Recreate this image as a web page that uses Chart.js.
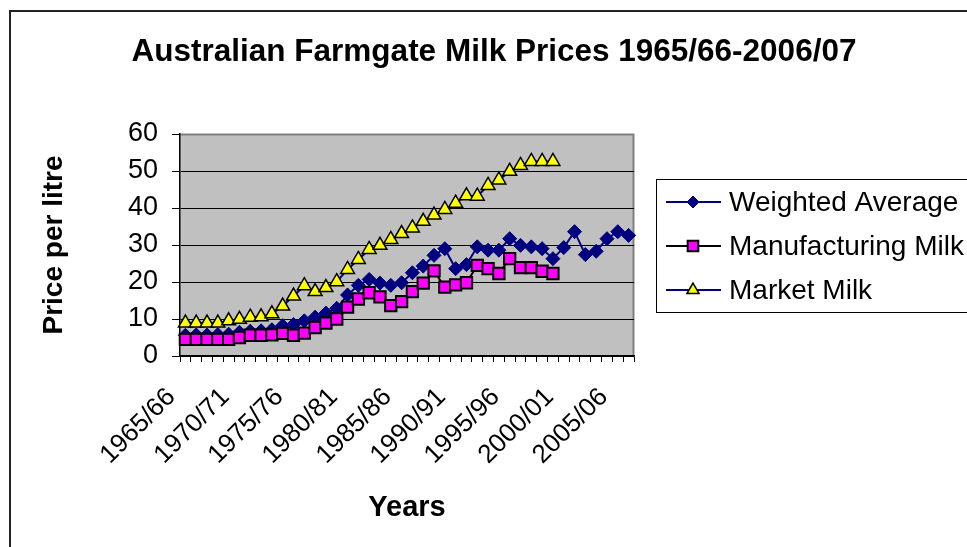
<!DOCTYPE html>
<html>
<head>
<meta charset="utf-8">
<script src="https://cdn.jsdelivr.net/npm/chart.js"></script>
<style>
html,body{margin:0;padding:0;background:#fff;}
#c{display:block;}
</style>
</head>
<body>
<canvas id="c" width="967" height="547"></canvas>
<script>
const chartTitle = 'Australian Farmgate Milk Prices 1965/66-2006/07';
const xTitle = 'Years';
const yTitle = 'Price per litre';

const categories = ['1965/66','1966/67','1967/68','1968/69','1969/70','1970/71','1971/72','1972/73','1973/74','1974/75',
  '1975/76','1976/77','1977/78','1978/79','1979/80','1980/81','1981/82','1982/83','1983/84','1984/85',
  '1985/86','1986/87','1987/88','1988/89','1989/90','1990/91','1991/92','1992/93','1993/94','1994/95',
  '1995/96','1996/97','1997/98','1998/99','1999/00','2000/01','2001/02','2002/03','2003/04','2004/05',
  '2005/06','2006/07'];

const seriesNames = ['Weighted Average', 'Manufacturing Milk', 'Market Milk'];

const weightedAverage = [5.6,5.7,5.7,5.8,5.9,6.4,6.7,6.8,7.1,8.2,
  8.5,9.5,10.5,11.6,12.9,16.5,19.1,20.7,19.7,19.1,
  19.8,22.5,24.3,27.2,29.0,23.6,24.7,29.5,28.6,28.6,
  31.7,29.9,29.5,29.0,26.3,29.3,33.6,27.4,28.3,31.7,
  33.6,32.6];

const manufacturingMilk = [4.5,4.5,4.5,4.5,4.5,5.0,5.6,5.6,5.7,6.1,
  5.6,6.2,7.7,8.9,10.0,13.2,15.4,17.1,16.0,13.6,
  14.7,17.4,19.7,23.0,18.6,19.2,19.8,24.5,23.6,22.3,
  26.3,23.9,23.9,22.9,22.3,null,null,null,null,null,
  null,null];

const marketMilk = [8.9,8.9,8.9,8.9,9.5,9.9,10.5,10.6,11.4,13.5,
  16.2,19.0,17.4,18.5,20.1,23.4,26.1,28.8,29.9,31.5,
  33.1,34.6,36.4,38.1,39.6,41.3,43.3,43.2,46.1,47.6,
  49.9,51.5,52.6,52.6,52.6,null,null,null,null,null,
  null,null];

const yTicks = {min: 0, max: 60, step: 10};
const labelEvery = 5;

const FONT = '"Liberation Sans", Arial, sans-serif';
Chart.defaults.font.family = FONT;
Chart.defaults.color = '#000';

const NAVY = '#000080';

function drawMarker(ctx, style, x, y, r, fill, stroke, lw) {
  ctx.save();
  ctx.fillStyle = fill; ctx.strokeStyle = stroke; ctx.lineWidth = lw;
  ctx.beginPath();
  if (style === 'rectRot') {
    ctx.moveTo(x, y - r); ctx.lineTo(x + r, y); ctx.lineTo(x, y + r); ctx.lineTo(x - r, y); ctx.closePath();
  } else if (style === 'rect') {
    const s = r * Math.SQRT1_2;
    ctx.rect(x - s, y - s, 2 * s, 2 * s);
  } else if (style === 'triangle') {
    ctx.moveTo(x, y - r);
    ctx.lineTo(x + r * Math.sin(2 * Math.PI / 3), y - r * Math.cos(2 * Math.PI / 3));
    ctx.lineTo(x + r * Math.sin(4 * Math.PI / 3), y - r * Math.cos(4 * Math.PI / 3));
    ctx.closePath();
  }
  ctx.fill(); ctx.stroke();
  ctx.restore();
}

const decorPlugin = {
  id: 'decor',
  beforeDraw(chart) {
    const {ctx, chartArea: a} = chart;
    ctx.save();
    ctx.fillStyle = '#fff';
    ctx.fillRect(0, 0, chart.width, chart.height);
    ctx.fillStyle = '#C0C0C0';
    ctx.fillRect(a.left, a.top, a.right - a.left, a.bottom - a.top);
    ctx.strokeStyle = '#808080';
    ctx.lineWidth = 2;
    ctx.beginPath();
    ctx.moveTo(a.left, a.top + 0.5);
    ctx.lineTo(a.right - 0.5, a.top + 0.5);
    ctx.lineTo(a.right - 0.5, a.bottom);
    ctx.stroke();
    ctx.strokeStyle = '#222';
    ctx.lineWidth = 2;
    ctx.strokeRect(10, 11, chart.width + 40, chart.height + 40);
    ctx.restore();
  },
  afterDraw(chart) {
    const {ctx} = chart;
    ctx.save();
    ctx.fillStyle = '#000';
    ctx.font = 'bold 31.5px ' + FONT;
    ctx.textAlign = 'center';
    ctx.textBaseline = 'alphabetic';
    ctx.fillText(chartTitle, 494, 61);
    ctx.strokeStyle = '#000';
    ctx.lineWidth = 1;
    ctx.strokeRect(656.5, 179.5, 400, 133);
    const rows = [202, 246, 290];
    ctx.font = '28px ' + FONT;
    ctx.textAlign = 'left';
    ctx.textBaseline = 'middle';
    chart.data.datasets.forEach((ds, i) => {
      const y = rows[i];
      ctx.strokeStyle = ds.borderColor;
      ctx.lineWidth = 2;
      ctx.beginPath();
      ctx.moveTo(666, y); ctx.lineTo(721, y);
      ctx.stroke();
      drawMarker(ctx, ds.pointStyle, 693, y, ds.legendRadius, ds.pointBackgroundColor, ds.pointBorderColor, ds.pointBorderWidth);
      ctx.fillStyle = '#000';
      ctx.fillText(ds.label, 729, y + 1);
    });
    ctx.restore();
  }
};

new Chart(document.getElementById('c'), {
  type: 'line',
  data: {
    labels: categories,
    datasets: [
      {
        label: seriesNames[0], data: weightedAverage,
        borderColor: NAVY, borderWidth: 2,
        pointStyle: 'rectRot', pointRadius: 7, pointHoverRadius: 7,
        pointBackgroundColor: NAVY, pointBorderColor: NAVY, pointBorderWidth: 1,
        legendRadius: 6, order: 3, tension: 0, spanGaps: false
      },
      {
        label: seriesNames[1], data: manufacturingMilk,
        borderColor: '#000', borderWidth: 2,
        pointStyle: 'rect', pointRadius: 8, pointHoverRadius: 8,
        pointBackgroundColor: '#FF00FF', pointBorderColor: '#000', pointBorderWidth: 2,
        legendRadius: 7.5, order: 2, tension: 0, spanGaps: false
      },
      {
        label: seriesNames[2], data: marketMilk,
        borderColor: NAVY, borderWidth: 2,
        pointStyle: 'triangle', pointRadius: 8, pointHoverRadius: 8,
        pointBackgroundColor: '#FFFF00', pointBorderColor: '#000', pointBorderWidth: 1.5,
        legendRadius: 7, order: 1, tension: 0, spanGaps: false
      }
    ]
  },
  options: {
    responsive: false,
    animation: false,
    devicePixelRatio: 1,
    layout: {padding: {left: 0, top: 134, right: 333, bottom: 0}},
    plugins: {
      legend: {display: false},
      title: {display: false},
      tooltip: {enabled: false}
    },
    scales: {
      x: {
        type: 'category',
        offset: true,
        afterFit(scale) { scale.height = 191; },
        grid: {drawOnChartArea: false, drawTicks: true, tickLength: 6, offset: true, color: '#000', lineWidth: 1},
        border: {display: true, color: '#000', width: 1.5},
        ticks: {
          autoSkip: false, maxRotation: 45, minRotation: 45, padding: 20, labelOffset: -14,
          font: {size: 26}, color: '#000',
          callback(value, index) { return index % labelEvery === 0 ? this.getLabelForValue(value) : ''; }
        },
        title: {display: true, text: xTitle, font: {size: 29, weight: 'bold'}, color: '#000', padding: {top: 0, bottom: 22}}
      },
      y: {
        min: yTicks.min, max: yTicks.max,
        afterFit(scale) { scale.width = 180; },
        grid: {
          drawOnChartArea: true, drawTicks: true, tickLength: 8,
          color: (c) => (c.tick && c.tick.value === yTicks.max) ? '#808080' : '#000',
          tickColor: '#000', lineWidth: 1
        },
        border: {display: true, color: '#000', width: 1.5},
        ticks: {stepSize: yTicks.step, font: {size: 27}, color: '#000', padding: 14},
        title: {display: true, text: yTitle, font: {size: 28, weight: 'bold'}, color: '#000', padding: {top: 37, bottom: 0}}
      }
    }
  },
  plugins: [decorPlugin]
});
</script>
</body>
</html>
